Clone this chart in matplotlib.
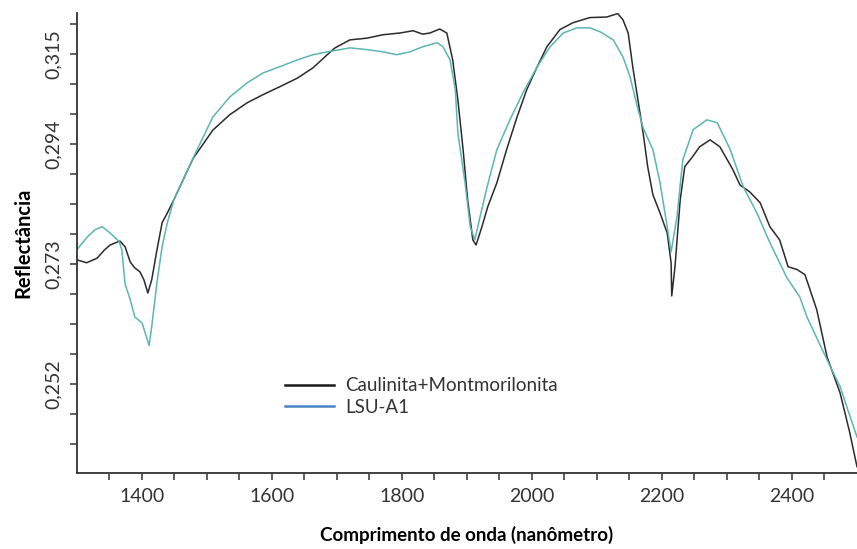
import matplotlib.pyplot as plt
from matplotlib.lines import Line2D

plt.rcParams['font.family'] = ['Lato', 'DejaVu Sans']

# Caulinita+Montmorilonita (black)
wl_cm = [1300, 1315, 1331, 1342, 1351, 1366, 1374, 1382, 1389, 1397, 1403, 1409,
         1415, 1423, 1431, 1439, 1449, 1469, 1479, 1509, 1535, 1562, 1586, 1612,
         1639, 1663, 1685, 1697, 1720, 1746, 1771, 1797, 1817, 1832, 1843, 1858,
         1869, 1878, 1886, 1894, 1901, 1909, 1914, 1923, 1932, 1946, 1961, 1977,
         1992, 2008, 2023, 2043, 2063, 2089, 2115, 2132, 2140, 2148, 2155, 2163,
         2171, 2178, 2186, 2197, 2208, 2214, 2215, 2220, 2228, 2235, 2246, 2258,
         2274, 2289, 2309, 2320, 2335, 2351, 2366, 2381, 2394, 2408, 2420, 2438,
         2454, 2474, 2489, 2500]
refl_cm = [0.2737, 0.2732, 0.2740, 0.2754, 0.2763, 0.2770, 0.2760, 0.2733, 0.2723,
           0.2716, 0.2702, 0.2679, 0.2702, 0.2754, 0.2802, 0.2819, 0.2842, 0.2891,
           0.2915, 0.2964, 0.2991, 0.3012, 0.3026, 0.3040, 0.3055, 0.3073, 0.3096,
           0.3108, 0.3122, 0.3125, 0.3131, 0.3134, 0.3138, 0.3132, 0.3134, 0.3141,
           0.3134, 0.3087, 0.3017, 0.2930, 0.2842, 0.2772, 0.2763, 0.2795, 0.2830,
           0.2872, 0.2930, 0.2987, 0.3035, 0.3075, 0.3110, 0.3140, 0.3152, 0.3161,
           0.3162, 0.3168, 0.3157, 0.3134, 0.3075, 0.3017, 0.2959, 0.2900, 0.2851,
           0.2819, 0.2784, 0.2732, 0.2674, 0.2725, 0.2842, 0.2900, 0.2916, 0.2935,
           0.2947, 0.2935, 0.2895, 0.2868, 0.2856, 0.2837, 0.2795, 0.2772, 0.2725,
           0.2720, 0.2711, 0.2650, 0.2567, 0.2504, 0.2434, 0.2375]

# LSU-A1 (teal)
wl_lsu = [1300, 1315, 1328, 1339, 1351, 1365, 1369, 1374, 1382, 1389, 1400, 1405,
          1411, 1415, 1423, 1431, 1439, 1449, 1479, 1509, 1535, 1562, 1586, 1612,
          1639, 1663, 1685, 1720, 1746, 1771, 1792, 1812, 1832, 1854, 1863, 1874,
          1882, 1886, 1897, 1905, 1912, 1920, 1931, 1946, 1966, 1986, 2008, 2028,
          2048, 2069, 2089, 2105, 2125, 2140, 2151, 2162, 2171, 2186, 2197, 2208,
          2214, 2223, 2232, 2248, 2269, 2285, 2305, 2325, 2346, 2366, 2392, 2412,
          2423, 2454, 2474, 2500]
refl_lsu = [0.2755, 0.2776, 0.2790, 0.2795, 0.2784, 0.2769, 0.2755, 0.2695, 0.2667,
            0.2637, 0.2627, 0.2609, 0.2587, 0.2620, 0.2697, 0.2760, 0.2802, 0.2842,
            0.2916, 0.2987, 0.3022, 0.3047, 0.3064, 0.3075, 0.3087, 0.3096, 0.3101,
            0.3108, 0.3105, 0.3101, 0.3096, 0.3101, 0.3110, 0.3117, 0.3110, 0.3087,
            0.3035, 0.2959, 0.2872, 0.2795, 0.2772, 0.2812, 0.2865, 0.2930, 0.2982,
            0.3029, 0.3075, 0.3110, 0.3134, 0.3143, 0.3143, 0.3136, 0.3122, 0.3092,
            0.3057, 0.3005, 0.2968, 0.2930, 0.2872, 0.2795, 0.2751, 0.2812, 0.2912,
            0.2965, 0.2982, 0.2977, 0.2930, 0.2865, 0.2819, 0.2767, 0.2706, 0.2672,
            0.2637, 0.2562, 0.2515, 0.2427]

labels = ['Caulinita+Montmorilonita', 'LSU-A1']
xticks_major = [1400, 1600, 1800, 2000, 2200, 2400]
yticks_all = [0.2415, 0.24675, 0.252, 0.25725, 0.2625, 0.26775, 0.273, 0.27825,
              0.2835, 0.28875, 0.294, 0.29925, 0.3045, 0.30975, 0.315]
ytick_text = {0.252: '0,252', 0.273: '0,273', 0.294: '0,294', 0.30975: '0,315'}

fig = plt.figure(figsize=(8.57, 5.49), dpi=100)
ax = fig.add_axes([0.0898, 0.1384, 0.9102, 0.8379])

ax.plot(wl_cm, refl_cm, color='#2b2b2b', lw=1.1)
ax.plot(wl_lsu, refl_lsu, color='#5bb6b4', lw=1.1)

ax.set_xlim(1300, 2500)
ax.set_ylim(0.2364, 0.3169)

ax.set_xticks(xticks_major)
ax.set_xticks(range(1350, 2500, 50), minor=True)
ax.set_yticks(yticks_all)
ax.set_yticklabels([ytick_text.get(v, '') for v in yticks_all],
                   rotation=90, va='center')

for s in ['top', 'right']:
    ax.spines[s].set_visible(False)
for s in ['left', 'bottom']:
    ax.spines[s].set_linewidth(1.3)
    ax.spines[s].set_color('#333333')

ax.tick_params(axis='both', which='both', direction='out', length=5,
               width=1.1, color='#333333', labelsize=14, labelcolor='#333333')
ax.tick_params(axis='y', pad=6)
ax.tick_params(axis='x', pad=6)

ax.set_xlabel('Comprimento de onda (nanômetro)', fontsize=13.5,
              fontweight='bold', labelpad=15)
ax.set_ylabel('Reflectância', fontsize=14.5, fontweight='bold', labelpad=8)

handles = [Line2D([], [], color='#1a1a1a', lw=1.8),
           Line2D([], [], color='#4a82c6', lw=1.8)]
ax.legend(handles, labels, loc='upper left', bbox_to_anchor=(0.245, 0.245),
          frameon=False, fontsize=13.5, handlelength=2.6, handletextpad=0.6,
          labelspacing=0.25, labelcolor='#333333')

fig.savefig('out.png', dpi=100)
